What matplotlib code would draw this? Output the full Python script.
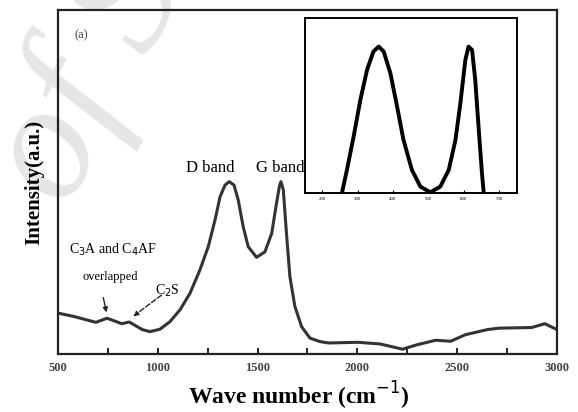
import matplotlib.pyplot as plt

plt.rcParams['font.family'] = ['Liberation Serif', 'DejaVu Serif']

# main Raman spectrum
wave = [500, 580, 690, 746, 820, 857, 922, 961, 1011, 1061, 1111, 1161, 1211, 1253,
        1287, 1312, 1337, 1358, 1382, 1403, 1428, 1453, 1495, 1537, 1571, 1592, 1609,
        1617, 1629, 1646, 1662, 1687, 1721, 1763, 1813, 1856, 2004, 2115, 2226, 2300,
        2393, 2467, 2541, 2652, 2708, 2874, 2939, 3000]
intensity = [11.9, 10.9, 9.2, 10.4, 8.8, 9.3, 7.1, 6.5, 7.2, 9.4, 12.8, 17.6, 24.4, 31.2,
             39.0, 45.7, 49.1, 50.1, 49.1, 44.8, 37.0, 31.2, 28.1, 29.7, 35.1, 42.8, 48.6,
             50.1, 47.7, 34.1, 22.5, 13.8, 7.9, 4.6, 3.6, 3.2, 3.4, 2.9, 1.4, 2.7,
             4.0, 3.7, 5.6, 7.1, 7.5, 7.7, 8.8, 7.1]

# inset fitted bands
inset_x = [256, 270, 289, 308, 327, 345, 360, 374, 393, 412, 430, 454, 478, 506,
           534, 558, 577, 591, 605, 614, 624, 633, 643, 652, 657]
inset_y = [0, 13.1, 32.2, 53.1, 70.3, 80.8, 83.6, 80.8, 68.4, 49.3, 30.3, 13.1, 3.6, 0.4,
           3.6, 13.1, 30.3, 51.3, 76.0, 83.6, 81.7, 64.6, 36.0, 11.3, 0]
inset_ticks = [200, 300, 400, 500, 600, 700]

fig = plt.figure(figsize=(5.78, 4.12), dpi=100)

# watermark
fig.text(0.156, 0.81, 'of S', fontsize=120, style='italic', color='#e6e6e6',
         rotation=62, ha='center', va='center', zorder=-10)

ax = fig.add_axes([0.1003, 0.1408, 0.8633, 0.835])
ax.patch.set_alpha(0)
ax.plot(wave, intensity, color='#333333', lw=2.2)
ax.set_xlim(500, 3000)
ax.set_ylim(0, 100)
ax.set_xticks([500, 1000, 1500, 2000, 2500, 3000])
ax.set_xticks([750, 1250, 1750, 2250, 2750], minor=True)
ax.set_yticks([])
ax.tick_params(axis='x', which='both', direction='in', length=4, width=1.2,
               labelsize=9, pad=6, top=False)
for lab in ax.get_xticklabels():
    lab.set_fontweight('bold')
    lab.set_color('#444444')
for s in ax.spines.values():
    s.set_linewidth(1.6)
    s.set_color('#222222')

ax.set_xlabel('Wave number (cm$^{-1}$)', fontsize=17, fontweight='bold')
ax.xaxis.set_label_coords(0.483, -0.075)
ax.set_ylabel('Intensity(a.u.)', fontsize=15, fontweight='bold', labelpad=10)

ax.text(615, 92.7, '(a)', fontsize=9, ha='center', va='center', color='#444444')
ax.text(1262, 54, 'D band', fontsize=12, ha='center', va='center')
ax.text(1612, 54, 'G band', fontsize=12, ha='center', va='center')
ax.text(776, 30.2, 'C$_3$A and C$_4$AF', fontsize=10, ha='center', va='center')
ax.text(761, 22.4, 'overlapped', fontsize=9, ha='center', va='center')
ax.text(1046, 18.5, 'C$_2$S', fontsize=10, ha='center', va='center')
ax.annotate('', xy=(746, 11.3), xytext=(724, 17.2),
            arrowprops=dict(arrowstyle='-|>', color='#222222', lw=1, mutation_scale=7))
ax.annotate('', xy=(866, 10.5), xytext=(1030, 17.6),
            arrowprops=dict(arrowstyle='-|>', color='#222222', lw=1, ls='--',
                            mutation_scale=7))

axin = fig.add_axes([0.528, 0.5316, 0.367, 0.425])
axin.plot(inset_x, inset_y, color='black', lw=2.8)
axin.set_xlim(152, 752)
axin.set_ylim(0, 100)
axin.set_xticks(inset_ticks)
axin.set_yticks([])
axin.tick_params(axis='x', direction='in', length=2, labelsize=3.5, pad=3)
for s in axin.spines.values():
    s.set_linewidth(1.4)

fig.savefig('out.png', dpi=100)
